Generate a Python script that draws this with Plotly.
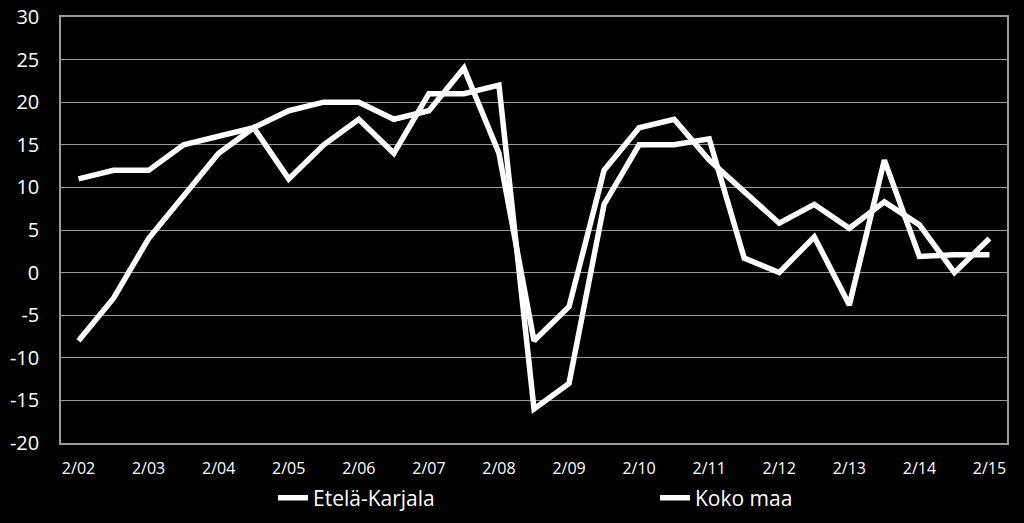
import plotly.graph_objects as go

# half-year survey points, Feb 2002 ... Feb 2015
periods = [
    "2/02", "8/02", "2/03", "8/03", "2/04", "8/04", "2/05", "8/05", "2/06",
    "8/06", "2/07", "8/07", "2/08", "8/08", "2/09", "8/09", "2/10", "8/10",
    "2/11", "8/11", "2/12", "8/12", "2/13", "8/13", "2/14", "8/14", "2/15",
]
tick_labels = periods[::2]

y_ticks = [-20, -15, -10, -5, 0, 5, 10, 15, 20, 25, 30]
y_tick_text = ["-20", "-15", "-10", "-5", "0", "5", "10", "15", "20", "25", "30"]

etela_karjala = [
    -8, -3, 4, 9, 14, 17, 11, 15, 18, 14, 21, 21, 22, -16, -13, 8, 15, 15,
    15.7, 1.7, 0, 4.2, -3.8, 13.2, 1.9, 2.1, 2.1,
]
koko_maa = [
    11, 12, 12, 15, 16, 17, 19, 20, 20, 18, 19, 24, 14, -8, -4, 12, 17, 18,
    13.2, 9.4, 5.8, 8, 5.2, 8.3, 5.6, 0, 4,
]

FONT = "Open Sans, Noto Sans, sans-serif"
GRID = "#9a9a9a"

W, H = 1024, 523
# plot area in pixels: x 61..1007, y 17..443
PLOT_L, PLOT_W = 61, 946

fig = go.Figure()

fig.add_trace(go.Scatter(
    x=periods, y=etela_karjala, name="Etelä-Karjala",
    mode="lines", line=dict(color="white", width=5.5),
    legend="legend",
))
fig.add_trace(go.Scatter(
    x=periods, y=koko_maa, name="Koko maa",
    mode="lines", line=dict(color="white", width=5.5),
    legend="legend2",
))

legend_common = dict(
    orientation="h",
    xanchor="left",
    yanchor="middle",
    yref="container",
    y=(H - 498) / H,
    font=dict(size=21, color="white"),
    bgcolor="rgba(0,0,0,0)",
    borderwidth=0,
)

fig.update_layout(
    width=W,
    height=H,
    paper_bgcolor="black",
    plot_bgcolor="black",
    margin=dict(l=61, r=17, t=17, b=80, autoexpand=False),
    font=dict(family=FONT, color="white"),
    showlegend=True,
    legend=dict(x=(273 - PLOT_L) / PLOT_W, **legend_common),
    legend2=dict(x=(655 - PLOT_L) / PLOT_W, **legend_common),
)

fig.update_xaxes(
    type="category",
    categoryorder="array",
    categoryarray=periods,
    range=[-0.5, len(periods) - 0.5],
    tickmode="array",
    tickvals=tick_labels,
    ticktext=tick_labels,
    tickfont=dict(size=16, color="white"),
    showgrid=False,
    showline=True,
    linecolor=GRID,
    linewidth=1.5,
    mirror=True,
    ticks="",
    ticklabelstandoff=10,
    automargin=False,
)

fig.update_yaxes(
    range=[-20, 30],
    tickmode="array",
    tickvals=y_ticks,
    ticktext=y_tick_text,
    tickfont=dict(size=20, color="white"),
    showgrid=True,
    gridcolor=GRID,
    gridwidth=1.2,
    zeroline=False,
    showline=True,
    linecolor=GRID,
    linewidth=1.5,
    mirror=True,
    ticks="",
    ticklabelstandoff=16,
    automargin=False,
)

fig.write_html(
    "out.html",
    config={"displayModeBar": False},
    post_script="document.body.style.margin='0';",
)
